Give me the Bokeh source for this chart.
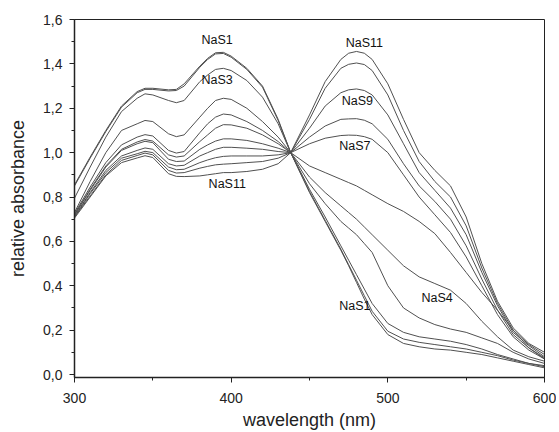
from bokeh.plotting import figure
from bokeh.models import SingleIntervalTicker, CustomJSTickFormatter, Range1d, ColumnDataSource
from bokeh.core.properties import value
from bokeh.embed import file_html
from bokeh.resources import INLINE

wavelength = [300, 310, 320, 330, 340, 345, 350, 360, 365, 370, 380, 385, 390, 395, 400, 410, 420, 430, 438,
              450, 460, 470, 475, 480, 485, 490, 500, 510, 520, 530, 540, 550, 560, 570, 580, 590, 600]

nas1 = [0.855, 0.98, 1.10, 1.21, 1.275, 1.29, 1.29, 1.283, 1.285, 1.31, 1.39, 1.425, 1.45, 1.452, 1.435, 1.38, 1.30, 1.15, 1.0,
        0.82, 0.69, 0.56, 0.49, 0.415, 0.34, 0.27, 0.18, 0.14, 0.125, 0.115, 0.11, 0.10, 0.09, 0.075, 0.06, 0.045, 0.03]
nas2 = [0.85, 0.975, 1.095, 1.205, 1.27, 1.285, 1.285, 1.278, 1.28, 1.30, 1.385, 1.42, 1.445, 1.447, 1.43, 1.375, 1.295, 1.145, 1.0,
        0.825, 0.695, 0.565, 0.495, 0.425, 0.355, 0.285, 0.195, 0.16, 0.145, 0.135, 0.125, 0.115, 0.10, 0.085, 0.065, 0.05, 0.035]
nas3 = [0.795, 0.935, 1.07, 1.185, 1.245, 1.265, 1.26, 1.235, 1.225, 1.235, 1.32, 1.35, 1.375, 1.38, 1.37, 1.325, 1.25, 1.13, 1.0,
        0.835, 0.71, 0.58, 0.515, 0.45, 0.385, 0.32, 0.23, 0.19, 0.17, 0.16, 0.15, 0.135, 0.115, 0.09, 0.07, 0.05, 0.04]
nas4 = [0.73, 0.87, 1.0, 1.1, 1.13, 1.145, 1.14, 1.085, 1.072, 1.08, 1.16, 1.20, 1.235, 1.245, 1.24, 1.20, 1.14, 1.07, 1.0,
        0.86, 0.77, 0.69, 0.66, 0.63, 0.59, 0.55, 0.40, 0.30, 0.255, 0.225, 0.205, 0.19, 0.165, 0.14, 0.10, 0.07, 0.05]
nas5 = [0.725, 0.845, 0.955, 1.035, 1.07, 1.081, 1.075, 1.01, 0.998, 1.005, 1.09, 1.13, 1.16, 1.174, 1.17, 1.14, 1.10, 1.05, 1.0,
        0.89, 0.82, 0.76, 0.73, 0.70, 0.665, 0.63, 0.56, 0.49, 0.44, 0.41, 0.38, 0.32, 0.24, 0.17, 0.11, 0.08, 0.06]
nas6 = [0.72, 0.835, 0.94, 1.015, 1.048, 1.059, 1.052, 0.99, 0.98, 0.985, 1.05, 1.08, 1.11, 1.126, 1.125, 1.11, 1.08, 1.04, 1.0,
        0.94, 0.91, 0.88, 0.865, 0.85, 0.83, 0.81, 0.77, 0.735, 0.69, 0.635, 0.55, 0.46, 0.37, 0.29, 0.20, 0.12, 0.07]
nas7 = [0.72, 0.83, 0.935, 1.01, 1.04, 1.051, 1.045, 0.97, 0.96, 0.962, 1.015, 1.035, 1.052, 1.062, 1.062, 1.055, 1.04, 1.02, 1.0,
        1.04, 1.065, 1.077, 1.079, 1.078, 1.072, 1.06, 1.0, 0.90, 0.80, 0.72, 0.64, 0.53, 0.40, 0.27, 0.17, 0.11, 0.07]
nas8 = [0.715, 0.82, 0.92, 0.985, 1.01, 1.021, 1.015, 0.95, 0.94, 0.943, 0.985, 1.00, 1.015, 1.024, 1.024, 1.02, 1.015, 1.005, 1.0,
        1.07, 1.12, 1.15, 1.152, 1.153, 1.146, 1.13, 1.06, 0.95, 0.85, 0.78, 0.70, 0.58, 0.43, 0.29, 0.18, 0.12, 0.075]
nas9 = [0.71, 0.815, 0.91, 0.975, 0.995, 1.006, 1.0, 0.935, 0.923, 0.925, 0.955, 0.967, 0.977, 0.983, 0.985, 0.985, 0.985, 0.99, 1.0,
        1.11, 1.21, 1.27, 1.283, 1.287, 1.28, 1.26, 1.17, 1.04, 0.91, 0.83, 0.75, 0.63, 0.46, 0.31, 0.19, 0.13, 0.08]
nas10 = [0.71, 0.805, 0.90, 0.965, 0.987, 0.998, 0.99, 0.92, 0.908, 0.91, 0.93, 0.938, 0.945, 0.948, 0.95, 0.955, 0.96, 0.975, 1.0,
         1.15, 1.29, 1.38, 1.398, 1.404, 1.397, 1.37, 1.26, 1.10, 0.96, 0.87, 0.80, 0.67, 0.48, 0.32, 0.20, 0.135, 0.09]
nas11 = [0.705, 0.80, 0.895, 0.955, 0.976, 0.986, 0.978, 0.905, 0.893, 0.892, 0.895, 0.90, 0.905, 0.91, 0.91, 0.915, 0.925, 0.95, 1.0,
         1.17, 1.32, 1.42, 1.448, 1.456, 1.448, 1.42, 1.31, 1.15, 1.00, 0.92, 0.85, 0.71, 0.50, 0.33, 0.21, 0.14, 0.10]

label_text = ["NaS1", "NaS3", "NaS11", "NaS11", "NaS9", "NaS7", "NaS4", "NaS1"]
label_x = [391, 391, 397.5, 485, 480.5, 479, 531.5, 479]
label_y = [1.509, 1.329, 0.86, 1.495, 1.234, 1.03, 0.347, 0.311]

p = figure(width=556, height=432, output_backend="svg", toolbar_location=None,
           x_range=Range1d(300, 600), y_range=Range1d(-0.0135, 1.6),
           min_border_left=74, min_border_right=12, min_border_top=19, min_border_bottom=54)

p.background_fill_color = "white"
p.border_fill_color = "white"
p.outline_line_color = "#222222"
p.outline_line_width = 1
p.grid.visible = False

font = "Liberation Sans"
for s in [nas1, nas2, nas3, nas4, nas5, nas6, nas7, nas8, nas9, nas10, nas11]:
    p.line(wavelength, s, line_color="#505050", line_width=1, line_join="round")

src = ColumnDataSource(dict(x=label_x, y=label_y, t=label_text))
p.text(x="x", y="y", text="t", source=src, text_font=value(font), text_font_size="12.5px",
       text_align="center", text_baseline="middle", text_color="#111111")

p.xaxis.ticker = SingleIntervalTicker(interval=100, num_minor_ticks=2)
p.yaxis.ticker = SingleIntervalTicker(interval=0.2, num_minor_ticks=2)
p.yaxis.formatter = CustomJSTickFormatter(code="return tick.toFixed(1).replace('.', ',');")

for ax in [p.xaxis[0], p.yaxis[0]]:
    ax.axis_line_color = "#222222"
    ax.axis_line_width = 1.5
    ax.major_tick_line_color = "#222222"
    ax.minor_tick_line_color = "#222222"
    ax.major_tick_out = 5
    ax.major_tick_in = 0
    ax.minor_tick_out = 3
    ax.minor_tick_in = 0
    ax.major_label_text_font = font
    ax.major_label_text_font_size = "14px"
    ax.major_label_text_color = "#222222"
    ax.axis_label_text_font = font
    ax.axis_label_text_font_size = "18px"
    ax.axis_label_text_font_style = "normal"
    ax.axis_label_text_color = "#222222"

p.xaxis.axis_label = "wavelength (nm)"
p.yaxis.axis_label = "relative absorbance"
p.xaxis.major_label_standoff = 10
p.xaxis.axis_label_standoff = 4
p.yaxis.major_label_standoff = 7
p.yaxis.axis_label_standoff = 12

open("out.html", "w").write(file_html(p, INLINE))
